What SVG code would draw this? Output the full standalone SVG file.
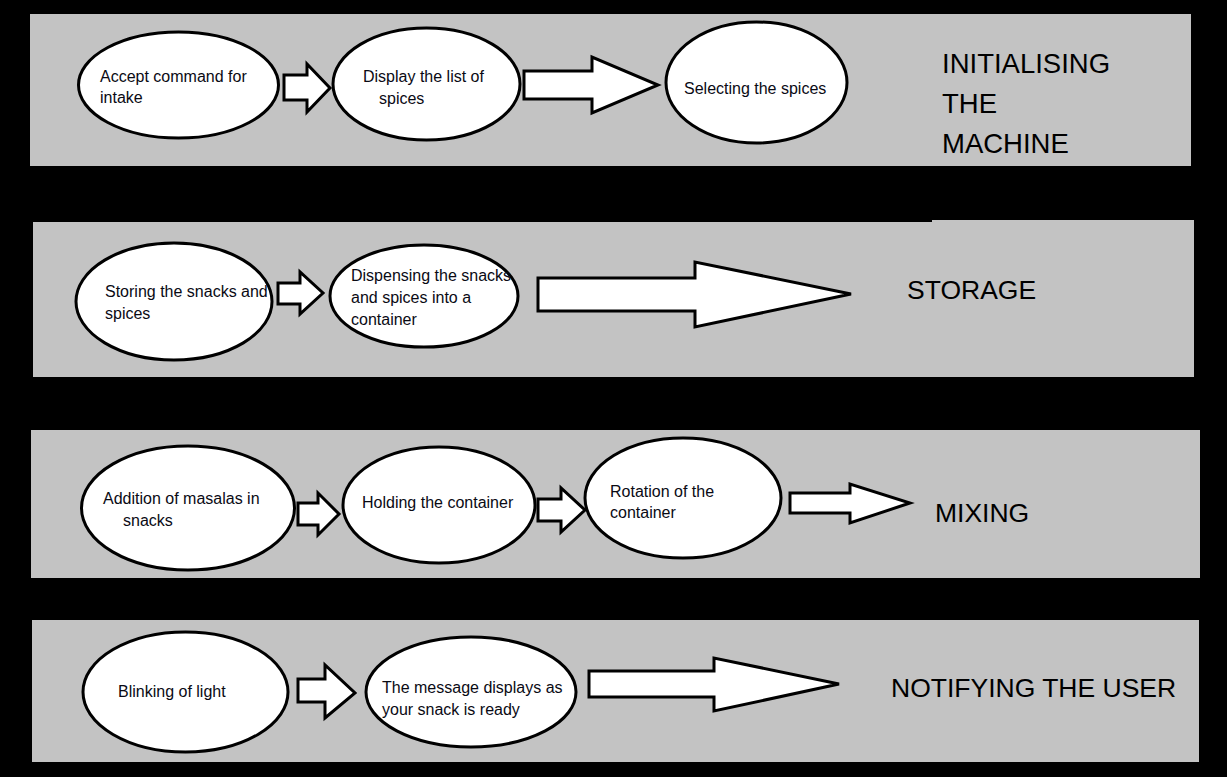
<svg xmlns="http://www.w3.org/2000/svg" width="1227" height="777" viewBox="0 0 1227 777">
<style>
.panel{fill:#c3c3c3}
.node{fill:#fff;stroke:#000;stroke-width:3}
.arrow{fill:#fff;stroke:#000;stroke-width:3;stroke-linejoin:miter}
.t{font-family:"Liberation Sans",Arial,sans-serif;font-size:16px;fill:#0a0a14}
.lbl{font-family:"Liberation Sans",Arial,sans-serif;font-size:26.5px;fill:#000}
.big{font-size:27.5px}
</style>
<rect x="0" y="0" width="1227" height="777" fill="#000"/>
<g id="panels">
<rect class="panel" x="30" y="14" width="1161" height="152"/>
<path class="panel" d="M33,222 H932 V220 H1194 V377 H33 Z"/>
<rect class="panel" x="31" y="430" width="1169" height="148"/>
<rect class="panel" x="32" y="620" width="1167" height="142"/>
</g>
<g id="connectors">
<polygon class="arrow" points="284,75 307,75 307,64 330,88 307,112 307,100 284,100"/>
<polygon class="arrow" points="524,71 592,71 592,57 658,85 592,113 592,99 524,99"/>
<polygon class="arrow" points="278,283 300,283 300,272 323,293 300,314 300,304 278,304"/>
<polygon class="arrow" points="538,278 695,278 695,262 851,294 695,327 695,311 538,311"/>
<polygon class="arrow" points="298,503 318,503 318,493 339,514 318,535 318,525 298,525"/>
<polygon class="arrow" points="538,499 561,499 561,488 585,510 561,532 561,521 538,521"/>
<polygon class="arrow" points="790,493 850,493 850,484 910,503 850,523 850,513 790,513"/>
<polygon class="arrow" points="298,679 325,679 325,665 355,693 325,718 325,702 298,702"/>
<polygon class="arrow" points="589,671 714,671 714,658 839,684 714,711 714,697 589,697"/>
</g>
<g id="n1"><ellipse class="node" cx="178.5" cy="85" rx="100" ry="53"/><text class="t" x="100" y="82">Accept command for</text><text class="t" x="100" y="103">intake</text></g>
<g id="n2"><ellipse class="node" cx="426.5" cy="84" rx="93.5" ry="56"/><text class="t" x="363" y="82">Display the list of</text><text class="t" x="379" y="104">spices</text></g>
<g id="n3"><ellipse class="node" cx="756.5" cy="82.5" rx="90.5" ry="60.5"/><text class="t" x="684" y="94">Selecting the spices</text></g>
<g id="l1"><text class="lbl big" x="942" y="73">INITIALISING</text><text class="lbl big" x="942" y="113">THE</text><text class="lbl big" x="942" y="153">MACHINE</text></g>
<g id="n4"><ellipse class="node" cx="174" cy="301.5" rx="98" ry="58.5"/><text class="t" x="105" y="297">Storing the snacks and</text><text class="t" x="105" y="319">spices</text></g>
<g id="n5"><ellipse class="node" cx="424" cy="296" rx="94" ry="51"/><text class="t" x="351" y="281">Dispensing the snacks</text><text class="t" x="351" y="303">and spices into a</text><text class="t" x="351" y="325">container</text></g>
<g id="l2"><text class="lbl" x="907" y="299">STORAGE</text></g>
<g id="n6"><ellipse class="node" cx="188" cy="508" rx="106.5" ry="62"/><text class="t" x="103" y="504">Addition of masalas in</text><text class="t" x="123" y="526">snacks</text></g>
<g id="n7"><ellipse class="node" cx="439" cy="505" rx="96" ry="58"/><text class="t" x="362" y="508">Holding the container</text></g>
<g id="n8"><ellipse class="node" cx="683" cy="498" rx="98" ry="60"/><text class="t" x="610" y="497">Rotation of the</text><text class="t" x="610" y="518">container</text></g>
<g id="l3"><text class="lbl" x="935" y="522">MIXING</text></g>
<g id="n9"><ellipse class="node" cx="185.5" cy="692" rx="102.5" ry="60"/><text class="t" x="118" y="697">Blinking of light</text></g>
<g id="n10"><ellipse class="node" cx="471" cy="692" rx="105" ry="55"/><text class="t" x="382" y="693">The message displays as</text><text class="t" x="382" y="715">your snack is ready</text></g>
<g id="l4"><text class="lbl" x="891" y="697">NOTIFYING THE USER</text></g>
</svg>
